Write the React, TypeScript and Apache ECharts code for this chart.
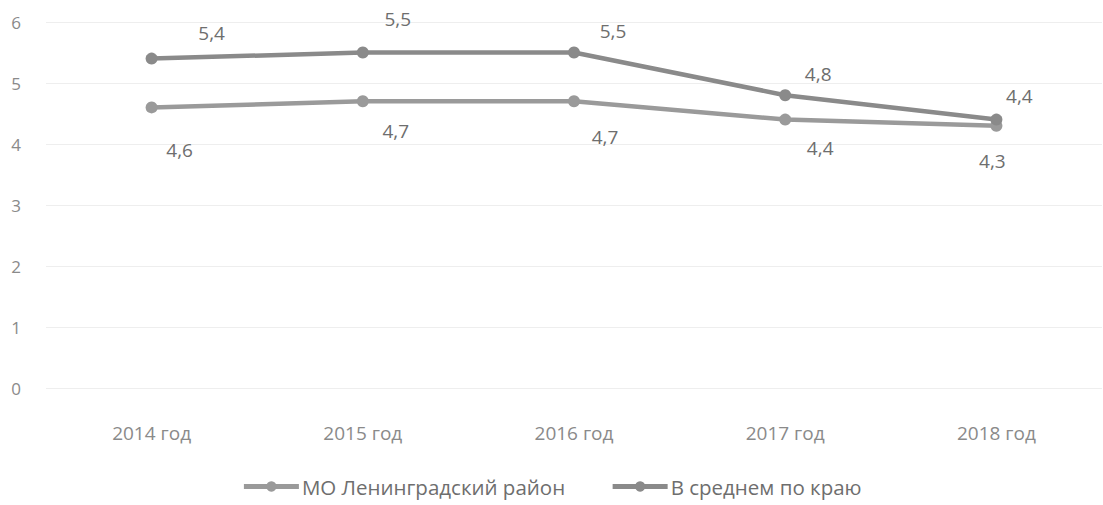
import React, { useEffect, useRef } from "react";
import * as echarts from "echarts";

const categories = ["2014 год", "2015 год", "2016 год", "2017 год", "2018 год"];
const seriesNames = ["МО Ленинградский район", "В среднем по краю"];
const districtValues = [4.6, 4.7, 4.7, 4.4, 4.3];
const regionValues = [5.4, 5.5, 5.5, 4.8, 4.4];

// label placement (layout only)
const districtLabelOffsets = [[28, 43], [33, 30], [31, 36], [35, 28], [-4, 35]];
const regionLabelOffsets = [[60, -26], [35, -34], [39, -22], [33, -21], [23, -24]];

const FONT = "Open Sans";
const fmt = (p: any) => String(p.value).replace(".", ",");

export default function App() {
  const ref = useRef<HTMLDivElement>(null);
  useEffect(() => {
    if (!ref.current) return;
    const chart = echarts.init(ref.current, undefined, { renderer: "svg" });
    const mk = (name: string, values: number[], offsets: number[][], color: string) => ({
      name,
      type: "line",
      data: values.map((v, i) => ({
        value: v,
        label: { offset: offsets[i] },
      })),
      symbol: "circle",
      symbolSize: 12,
      lineStyle: { width: 4.5, color },
      itemStyle: { color },
      label: {
        show: true,
        position: "inside",
        formatter: fmt,
        color: "#6e6e6e",
        fontFamily: FONT,
        fontSize: 19,
      },
    });
    chart.setOption({
      animation: false,
      backgroundColor: "#ffffff",
      textStyle: { fontFamily: FONT },
      grid: { left: 46, right: 1, top: 22, bottom: 117, containLabel: false },
      legend: {
        bottom: 3,
        left: "center",
        itemWidth: 55,
        itemHeight: 13,
        itemGap: 45,
        data: seriesNames,
        lineStyle: { width: 5 },
        textStyle: { fontFamily: FONT, fontSize: 20.5, color: "#6e6e6e", padding: [0, 0, 0, -2] },
      },
      xAxis: {
        type: "category",
        data: categories,
        boundaryGap: true,
        axisLine: { show: false },
        axisTick: { show: false },
        axisLabel: { color: "#8a8a8a", fontFamily: FONT, fontSize: 19, margin: 35 },
      },
      yAxis: {
        type: "value",
        min: 0,
        max: 6,
        interval: 1,
        axisLine: { show: false },
        axisTick: { show: false },
        splitLine: { lineStyle: { color: "#eeeeee", width: 1 } },
        axisLabel: { color: "#8a8a8a", fontFamily: FONT, fontSize: 17, margin: 25 },
      },
      series: [
        mk(seriesNames[0], districtValues, districtLabelOffsets, "#9a9a9a"),
        mk(seriesNames[1], regionValues, regionLabelOffsets, "#8a8a8a"),
      ],
    });
    return () => chart.dispose();
  }, []);
  return (
    <div
      ref={ref}
      style={{ position: "absolute", left: 0, top: 0, width: 1103, height: 505 }}
    />
  );
}
